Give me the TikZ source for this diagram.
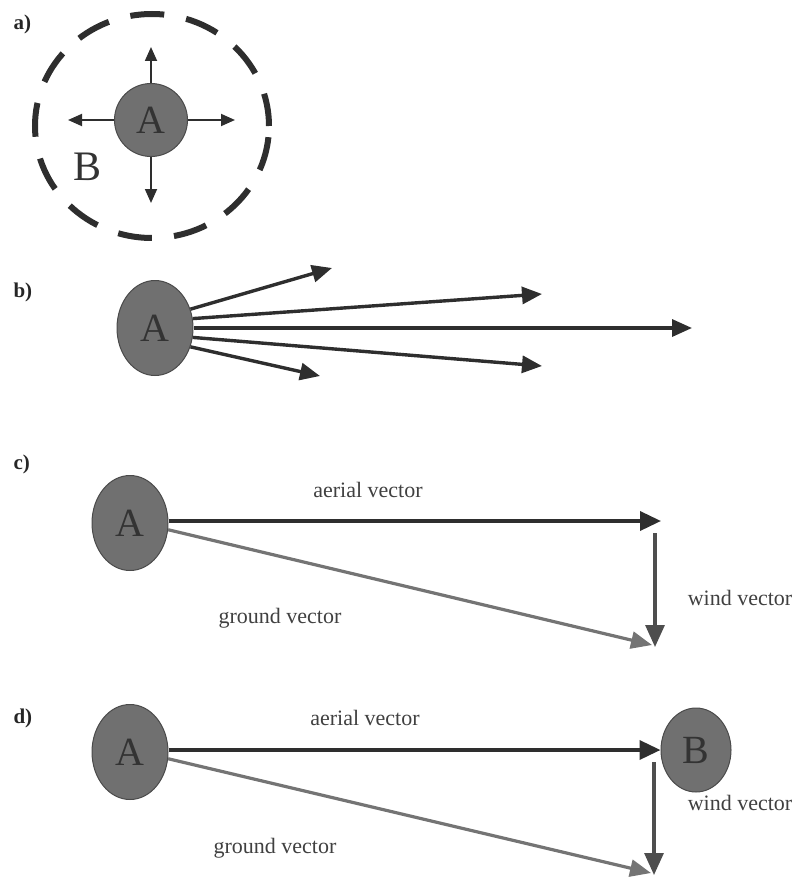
\documentclass[tikz,border=0pt]{standalone}
\usepackage{fontspec}
\setmainfont{Liberation Serif}
\usepackage{xcolor}
\usepackage{tikz}
\usetikzlibrary{arrows.meta,shapes.geometric,positioning,calc}

\definecolor{blobfill}{HTML}{707070}
\definecolor{blobdraw}{HTML}{4A4A4A}
\definecolor{darkvec}{HTML}{2E2E2E}
\definecolor{windvec}{HTML}{4E4E4E}
\definecolor{groundvec}{HTML}{747474}

\begin{document}
\begin{tikzpicture}[
  x=1pt, y=-1pt,
  every node/.style={align=center},
  % Sites (A, B)
  site/.style={
    ellipse, draw=blobdraw, fill=blobfill,
    line width=1pt, inner sep=0pt,
    minimum width=76pt, minimum height=95pt,
    font=\fontsize{40}{40}\selectfont, text=black!80
  },
  % Part labels
  part/.style={font=\fontsize{21}{21}\selectfont\bfseries, anchor=west, text=black!85},
  % Vector labels
  vlab/.style={font=\fontsize{22}{22}\selectfont, text=black!75},
  % Arrows
  thinarr/.style={-{Triangle[length=14pt,width=12pt]}, draw=darkvec, line width=1.8pt},
  fanarr/.style={-{Triangle[length=20pt,width=17pt]}, draw=darkvec, line width=3.4pt},
  aarr/.style={-{Triangle[length=21pt,width=19pt]}, draw=darkvec, line width=3.6pt},
  warr/.style={-{Triangle[length=22pt,width=19pt]}, draw=windvec, line width=3.2pt},
  garr/.style={-{Triangle[length=21pt,width=17pt]}, draw=groundvec, line width=3.2pt},
]
\useasboundingbox (0,0) rectangle (796,880);

% -------------------------------------------------------
% a) Search area around A
% -------------------------------------------------------
\node[part] (la) at (10,24) {a)};
\draw[line width=6pt, draw=darkvec, dash pattern=on 34pt off 22.3pt, dash phase=45.1pt]
  (152,126) ellipse (117 and 112);
\node[site, circle, minimum size=73pt] (Aa) at (151,120) {A};
\node[font=\fontsize{42}{42}\selectfont, text=black!80] (Ba) at (88,167) {B};

\coordinate (up)    at (151,47);
\coordinate (left)  at (68,120);
\coordinate (right) at (235,120);
\coordinate (down)  at (151,203);
\foreach \t in {up,left,right,down}
  \draw[thinarr] (Aa) -- (\t);

% -------------------------------------------------------
% b) Fan of directions from A
% -------------------------------------------------------
\node[part] (lb) at (10,292) {b)};
\node[site] (Ab) at (155,328) {A};

\coordinate (f1) at (332,268);
\coordinate (f2) at (542,294);
\coordinate (f3) at (692,328);
\coordinate (f4) at (542,366);
\coordinate (f5) at (320,376);

\draw[fanarr] (Ab.28)  -- (f1);
\draw[fanarr] (Ab.14)  -- (f2);
\draw[fanarr] (Ab.0)   -- (f3);
\draw[fanarr] (Ab.-14) -- (f4);
\draw[fanarr] (Ab.-28) -- (f5);

% -------------------------------------------------------
% c) Aerial, wind and ground vectors
% -------------------------------------------------------
\node[part] (lc) at (10,464) {c)};
\node[site] (Ac) at (130,523) {A};

\coordinate (ca) at (661,521);
\coordinate (cw) at (655,533);
\coordinate (cg) at (655,647);

\draw[aarr] (Ac.east) ++(0,-2) -- (ca);
\draw[warr] (cw) -- (cg);
\draw[garr] (Ac.-10) -- ($(cg)+(-3,-2)$);

\node[vlab] (cal) at (368,490) {aerial vector};
\node[vlab] (cgl) at (280,618) {ground vector};
\node[vlab] (cwl) at (740,598) {wind vector};

% -------------------------------------------------------
% d) Reaching B
% -------------------------------------------------------
\node[part] (ld) at (10,718) {d)};
\node[site] (Ad) at (130,752) {A};
\node[site, minimum width=70pt, minimum height=84pt] (Bd) at (696,750) {B};

\coordinate (dw) at (654,762);
\coordinate (dg) at (654,875);

\draw[aarr] (Ad.east) ++(0,-2) -- (Bd.west);
\draw[warr] (dw) -- (dg);
\draw[garr] (Ad.-10) -- ($(dg)+(-3,-2)$);

\node[vlab] (dal) at (365,718) {aerial vector};
\node[vlab] (dgl) at (275,848) {ground vector};
\node[vlab] (dwl) at (740,803) {wind vector};

\end{tikzpicture}
\end{document}
